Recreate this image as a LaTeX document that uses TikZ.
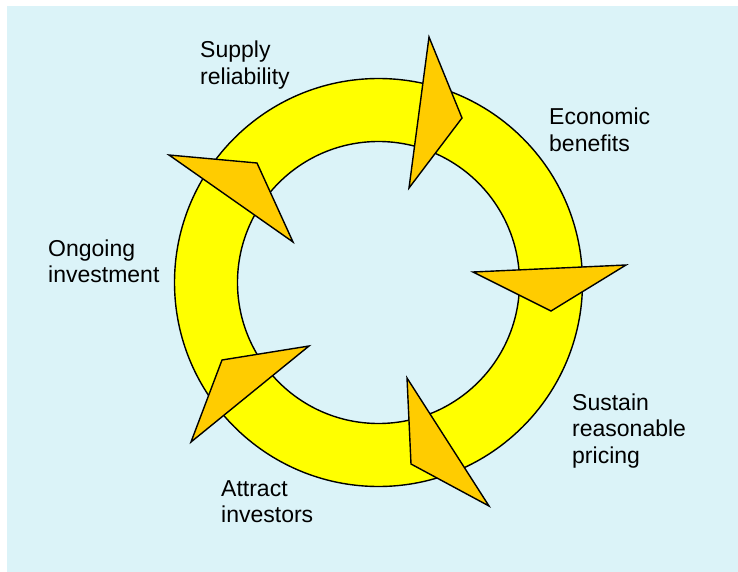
\documentclass[tikz,border=0pt]{standalone}
\usepackage{fontspec}
\setmainfont{Liberation Sans}
\begin{document}
\begin{tikzpicture}[x=1pt,y=-1pt,
  ringfill/.style={fill=ringyellow,draw=black,line width=1.4pt,even odd rule},
  dart/.style={fill=dartorange,draw=black,line width=1.4pt,line join=miter},
  lbl/.style={anchor=base west,inner sep=0pt,align=left,
    font=\fontsize{23}{26.5}\selectfont,text=black}]
\definecolor{bgcyan}{RGB}{219,243,248}
\definecolor{ringyellow}{RGB}{255,255,0}
\definecolor{dartorange}{RGB}{255,204,0}
\useasboundingbox (0,0) rectangle (738,572);
% backdrop
\fill[bgcyan] (7,6) rectangle (738,572);
% the ring
\coordinate (c) at (378.5,282.5);
\path[ringfill] (c) circle[radius=204] (c) circle[radius=141];
% darts pointing clockwise round the ring
\draw[dart] (429,37) -- (462,118) -- (409,188) -- cycle;
\draw[dart] (626,265) -- (551,311) -- (473,272) -- cycle;
\draw[dart] (489,506) -- (411,464) -- (407,378) -- cycle;
\draw[dart] (191,442) -- (222,360) -- (309,346) -- cycle;
\draw[dart] (169,155) -- (257,163) -- (293,242) -- cycle;
% labels (anchored at the baseline of their last line)
\node[lbl] (supply) at (200,84.5) {Supply\\reliability};
\node[lbl] (econ) at (549,151.5) {Economic\\benefits};
\node[lbl] (ongoing) at (48,282.5) {Ongoing\\investment};
\node[lbl] (sustain) at (572,463) {Sustain\\reasonable\\pricing};
\node[lbl] (attract) at (221,522.5) {Attract\\investors};
\end{tikzpicture}
\end{document}
